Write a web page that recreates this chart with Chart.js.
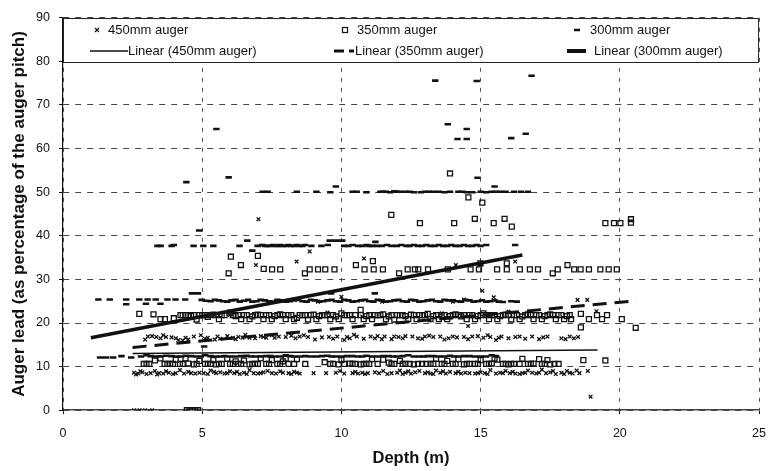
<!DOCTYPE html>
<html>
<head>
<meta charset="utf-8">
<title>Auger lead vs depth</title>
<script src="https://cdn.jsdelivr.net/npm/chart.js@4.4.1/dist/chart.umd.min.js"></script>
<style>
  html, body { margin: 0; padding: 0; background: #fff; }
  #wrap { width: 778px; height: 471px; }
</style>
</head>
<body>
<div id="wrap"><canvas id="augerChart" width="778" height="471"></canvas></div>
<script>
// Data: [depth (m), auger lead (%)]
const auger450 = [
  [2.55,0],[2.75,0],[2.95,0],[3.2,0],[18.95,3.1],
  [2.55,8.6],[2.7,8.4],[2.85,8.7],[3.0,8.3],[3.3,9.0],[3.45,8.5],[3.6,8.4],[3.8,8.6],[4.05,8.5],[4.2,9.2],
  [4.35,8.4],[4.5,8.8],[4.75,8.4],[4.9,8.6],[5.05,8.5],[5.3,9.1],[5.5,8.5],[5.65,8.7],[5.8,8.4],[6.0,8.9],
  [6.15,8.5],[6.35,8.3],[6.5,8.6],[6.7,9.2],[6.85,8.5],[7.0,8.4],[7.2,8.7],[7.35,9.0],[7.5,8.5],[7.65,8.4],
  [7.9,8.6],[8.1,8.5],[8.3,8.8],[8.5,8.4],[9.0,8.5],[9.45,8.5],[9.8,8.6],[9.95,9.0],[10.1,8.4],[10.4,8.5],
  [10.6,8.4],[10.75,8.6],[10.95,8.5],[11.2,8.7],[11.5,9.0],[11.8,8.5],[12.1,9.1],[12.3,8.6],[12.5,8.4],
  [12.65,8.7],[12.8,9.0],[13.0,8.5],[13.2,8.4],[13.4,9.1],[13.55,8.6],[13.75,8.4],[13.9,8.8],[14.1,8.5],
  [14.3,8.4],[14.45,8.6],[14.6,8.5],[14.8,8.4],[15.0,8.7],[15.15,8.5],[15.35,9.2],[15.55,8.4],[15.7,8.6],
  [15.9,9.0],[16.05,8.5],[16.25,8.4],[16.5,8.5],[16.7,9.1],[16.85,8.6],[17.0,8.4],[17.2,9.3],[17.35,8.5],
  [17.5,8.7],[17.7,8.3],[17.9,8.6],[18.1,9.0],[18.3,8.4],[18.55,8.5],[18.85,9.0],
  [2.62,8.2],[2.78,8.9],[3.15,8.5],[3.38,8.2],[3.7,8.9],[3.95,8.3],[4.6,8.5],[5.2,8.3],[5.42,8.8],[5.9,8.5],
  [6.25,8.8],[6.6,8.3],[7.1,8.5],[7.8,8.9],[8.2,8.3],[8.4,8.6],[10.5,8.8],[10.85,8.3],[11.35,8.5],[11.65,8.3],
  [12.0,8.6],[12.2,8.3],[12.4,8.9],[13.1,8.7],[13.3,8.3],[13.65,8.9],[14.2,8.8],[14.9,8.5],[15.25,8.3],
  [15.8,8.5],[16.15,8.8],[16.4,8.3],[16.6,8.6],[17.1,8.6],[17.6,9.0],[18.0,8.3],[18.2,8.6],[18.45,9.1],
  [2.95,16.2],[3.2,17.0],[3.35,16.8],[3.5,16.5],[3.7,16.8],[3.9,16.7],[4.15,16.1],[4.3,16.0],[4.5,16.2],
  [4.7,16.9],[4.95,17.2],[5.2,16.6],[5.45,16.2],[5.65,16.4],[5.9,17.0],[6.1,16.6],[6.3,16.8],[6.55,17.3],
  [6.7,16.6],[6.9,16.5],[7.1,17.0],[7.3,16.6],[7.5,17.2],[7.75,16.9],[8.0,16.8],[8.2,17.1],[8.5,16.9],
  [8.8,16.8],[9.05,16.2],[9.3,16.7],[9.55,16.8],[9.85,16.9],[10.1,16.1],[10.3,16.5],[10.55,16.9],[10.8,16.4],
  [11.05,16.9],[11.3,17.0],[11.55,16.9],[11.8,16.3],[12.05,16.8],[12.3,17.0],[12.55,16.9],[12.75,16.5],
  [13.0,16.9],[13.3,16.8],[13.55,16.9],[13.7,16.2],[14.0,16.9],[14.4,16.8],[14.7,16.9],[14.9,17.0],
  [15.1,16.6],[15.35,16.8],[15.55,16.1],[15.75,16.9],[16.0,16.5],[16.25,16.8],[16.6,16.4],[16.85,16.9],
  [17.1,16.3],[17.4,16.9],[17.9,16.5],[18.2,16.9],[18.5,16.8],
  [3.05,16.9],[3.6,17.2],[4.05,16.5],[4.4,16.6],[5.1,16.4],[5.55,16.9],[6.2,16.3],[6.45,16.6],[7.2,16.8],
  [7.6,16.6],[8.35,16.5],[8.65,17.2],[9.7,16.4],[10.2,16.8],[10.45,17.3],[11.2,16.5],[11.45,16.3],[11.9,16.9],
  [12.2,16.5],[12.9,16.4],[13.15,17.1],[13.85,16.5],[14.15,16.7],[14.55,16.3],[15.25,17.2],[15.65,16.6],
  [16.4,16.9],[17.25,16.7],[18.05,16.3],[18.35,16.5],
  [6.0,21.9],[9.5,22.4],[10.75,21.5],[13.6,22.2],[14.55,19.3],[16.0,22.6],[19.16,22.7],
  [9.16,24.9],[10.0,26.0],[11.46,24.9],[14.0,24.9],[14.4,25.4],[15.47,25.9],[18.48,25.3],[18.83,25.3],
  [15.06,27.4],[6.93,33.3],[8.39,34.1],[8.86,36.4],[10.81,34.8],[14.11,33.3],[15.03,33.5],[16.24,34.1],
  [7.02,43.8]
];

const auger350 = [
  [4.45,0],[4.55,0],[4.65,0],[4.75,0],[4.85,0],
  [2.9,10.6],[3.1,10.6],[3.3,11.4],[3.5,11.9],[3.65,10.6],[3.85,10.6],[4.05,11.6],[4.3,10.6],[4.5,10.7],
  [4.7,10.5],[4.9,11.3],[5.1,10.6],[5.3,10.6],[5.5,10.5],[5.7,10.6],[5.9,11.8],[6.1,10.6],[6.3,10.6],
  [6.5,11.4],[6.7,10.5],[6.9,10.6],[7.1,11.9],[7.3,10.6],[7.5,11.5],[7.7,10.6],[7.9,11.2],[8.1,10.6],
  [8.4,11.7],[8.7,10.6],[9.4,11.0],[9.7,10.6],[9.9,10.5],[10.1,10.6],[10.3,10.7],[10.5,10.6],[10.7,10.5],
  [10.9,10.6],[11.1,11.7],[11.3,10.6],[11.5,11.6],[11.7,10.9],[11.9,10.6],[12.1,11.3],[12.3,10.6],
  [12.6,10.5],[12.9,10.6],[13.2,10.6],[13.4,11.8],[13.6,10.6],[13.8,11.3],[14.0,10.6],[14.2,11.7],
  [14.4,10.5],[14.6,10.6],[14.8,10.6],[15.0,11.5],[15.2,10.6],[15.4,10.7],[15.6,11.6],[15.8,10.6],
  [16.0,10.5],[16.2,10.6],[16.5,11.8],[16.7,10.6],[16.9,10.7],[17.1,11.7],[17.3,10.6],[17.5,10.5],
  [17.8,10.6],[18.69,11.5],[19.48,11.4],
  [3.0,10.6],[3.75,10.6],[3.95,10.6],[4.2,10.6],[4.4,11.9],[4.8,10.6],[5.2,10.6],[5.4,11.5],[5.6,10.6],
  [6.0,10.6],[6.2,11.2],[6.4,10.6],[6.8,10.6],[7.0,10.6],[7.4,10.6],[7.8,10.6],[8.0,11.8],[8.3,10.6],
  [9.6,10.6],[10.0,11.5],[10.4,10.6],[10.8,10.6],[11.0,10.6],[11.8,10.6],[12.2,10.6],[12.45,10.6],
  [12.75,10.6],[13.05,10.6],[13.3,10.6],[13.7,10.6],[14.1,10.6],[14.5,10.6],[14.9,10.6],[15.3,10.6],
  [15.5,11.8],[15.9,10.6],[16.1,10.6],[16.4,10.6],[16.8,10.6],[17.2,10.6],[17.4,11.5],[17.65,10.6],
  [2.74,22.1],[3.25,22.0],[3.5,20.9],[3.66,20.9],[3.98,21.1],[4.22,21.8],[4.4,21.8],[4.6,21.6],[4.8,20.8],
  [5.0,21.8],[5.2,21.4],[5.4,21.9],[5.6,20.9],[5.8,21.8],[6.0,22.4],[6.2,21.6],[6.4,20.9],[6.6,21.8],
  [6.8,21.5],[7.0,21.9],[7.2,20.9],[7.4,21.8],[7.6,21.6],[7.8,22.0],[8.0,20.9],[8.2,21.8],[8.4,21.2],
  [8.6,21.8],[8.8,20.8],[9.0,21.9],[9.2,21.6],[9.4,21.8],[9.6,20.9],[9.8,21.5],[10.0,22.2],[10.2,21.8],
  [10.4,20.9],[10.69,23.0],[10.7,21.8],[10.9,21.6],[11.1,20.9],[11.3,21.8],[11.5,22.0],[11.7,21.5],
  [11.9,20.8],[12.1,21.8],[12.3,21.6],[12.5,21.9],[12.7,20.9],[12.9,21.8],[13.1,22.1],[13.3,21.6],
  [13.5,20.9],[13.7,21.8],[13.9,21.6],[14.1,22.0],[14.3,21.5],[14.5,20.9],[14.7,21.8],[14.9,21.6],
  [15.1,22.2],[15.3,20.9],[15.5,21.8],[15.7,21.6],[15.9,21.9],[16.1,20.8],[16.3,21.8],[16.5,21.5],
  [16.7,22.0],[16.9,20.9],[17.1,21.8],[17.3,21.6],[17.5,22.0],[17.7,20.9],[17.9,21.8],[18.1,21.6],
  [18.25,20.9],[18.6,22.1],[18.89,20.9],[19.18,21.8],[19.36,20.9],[19.54,21.8],[20.07,20.9],
  [18.6,19.0],[20.57,18.9],
  [4.3,21.8],[4.5,21.8],[4.7,21.8],[4.9,21.8],[5.1,21.8],[5.3,21.8],[5.5,21.8],[5.7,21.8],[6.1,21.8],
  [6.3,21.8],[6.5,21.8],[6.7,20.9],[6.9,21.8],[7.1,21.8],[7.3,21.8],[7.5,20.9],[7.7,21.8],[7.9,21.8],
  [8.1,21.8],[8.3,20.9],[8.5,21.8],[8.7,21.8],[8.9,21.8],[9.1,20.9],[9.3,21.8],[9.5,21.8],[9.7,21.8],
  [9.9,20.9],[10.1,21.8],[10.3,21.8],[10.5,21.8],[10.8,20.9],[11.0,21.8],[11.2,21.8],[11.4,21.8],
  [11.6,20.9],[11.8,21.8],[12.0,21.8],[12.2,21.8],[12.4,20.9],[12.6,21.8],[12.8,21.8],[13.0,21.8],
  [13.2,20.9],[13.4,21.8],[13.6,21.8],[13.8,20.9],[14.0,21.8],[14.2,21.8],[14.4,21.8],[14.6,21.8],
  [14.8,20.9],[15.0,21.8],[15.2,21.8],[15.4,21.8],[15.6,20.9],[15.8,21.8],[16.0,21.8],[16.2,21.8],
  [16.4,20.9],[16.6,21.8],[16.8,21.8],[17.0,21.8],[17.2,20.9],[17.4,21.8],[17.6,21.8],[17.8,21.8],
  [18.0,20.9],[18.2,21.8],
  [5.95,31.4],[6.03,35.2],[6.39,33.3],[7.0,35.4],[7.21,32.4],[7.51,32.3],[7.8,32.3],[8.69,31.4],
  [8.86,32.3],[9.16,32.3],[9.42,32.3],[9.75,32.3],[10.52,33.3],[10.83,32.3],[11.13,34.2],[11.16,32.3],
  [11.49,32.3],[12.07,31.4],[12.38,32.3],[12.64,32.3],[12.76,32.3],[13.11,32.3],[13.82,32.3],[14.64,32.3],
  [14.94,32.3],[14.99,33.7],[15.59,32.3],[15.94,32.3],[15.94,33.7],[16.41,32.3],[16.77,32.3],[17.06,32.3],
  [17.59,31.4],[17.77,32.3],[18.12,33.3],[18.36,32.3],[18.59,32.3],[18.89,32.3],[19.3,32.3],[19.6,32.3],
  [19.89,32.3],
  [11.79,44.8],[12.82,42.9],[13.9,54.3],[14.05,42.9],[14.56,48.8],[14.79,43.9],[15.06,47.6],[15.47,42.9],
  [15.86,43.9],[16.12,42.1],[19.48,42.9],[19.79,42.9],[20.02,42.9],[20.4,43.0],[20.4,43.8]
];

const auger300 = [
  [1.33,12.1],[1.8,12.1],[2.1,12.4],[2.45,12.1],[3.0,12.6],[3.3,12.3],[3.7,12.5],[4.1,12.3],[4.4,12.5],
  [4.8,12.3],[5.1,12.6],[5.5,12.3],[5.8,12.4],[6.2,12.3],[6.6,12.5],[6.9,12.3],[7.3,12.4],[7.6,12.3],
  [8.0,12.6],[8.3,12.3],[8.7,12.4],[9.1,12.3],[9.5,12.5],[9.8,12.3],[10.2,12.4],[10.6,12.3],[10.9,12.5],
  [11.3,12.3],[11.7,12.4],[12.0,12.3],[12.4,12.6],[12.8,12.3],[13.1,12.4],[13.5,12.3],[13.9,12.5],
  [14.2,12.3],[14.6,12.4],[15.0,12.3],[15.4,12.6],[5.07,14.6],
  [1.55,12.1],[2.8,12.3],[3.15,12.4],[3.5,12.3],[3.9,12.4],[4.25,12.3],[4.6,12.4],[4.95,12.3],[5.3,12.4],
  [5.65,12.3],[6.0,12.3],[6.4,12.4],[6.75,12.3],[7.1,12.3],[7.45,12.4],[7.8,12.3],[8.15,12.4],[8.5,12.3],
  [8.9,12.3],[9.3,12.4],[9.65,12.3],[10.0,12.3],[10.4,12.4],[10.75,12.3],[11.1,12.3],[11.5,12.4],
  [11.85,12.3],[12.2,12.4],[12.6,12.3],[12.95,12.3],[13.3,12.4],[13.7,12.3],[14.05,12.3],[14.4,12.4],
  [14.8,12.3],[15.2,12.3],[15.55,12.4],
  [1.27,25.4],[1.68,25.4],[2.27,25.4],[2.27,24.3],[2.74,25.4],[2.98,24.4],[3.04,25.4],[3.33,25.4],
  [3.5,24.4],[3.75,25.4],[4.04,25.4],[4.39,25.4],[4.63,26.8],[4.85,26.8],[4.98,25.3],[5.3,25.0],[5.6,25.2],
  [5.9,24.9],[6.2,25.3],[6.5,25.1],[6.8,24.9],[7.1,25.3],[7.4,25.0],[7.7,25.3],[8.0,24.9],[8.3,25.2],
  [8.6,25.0],[8.9,25.3],[9.2,24.9],[9.5,25.2],[9.63,26.8],[9.8,25.0],[10.1,25.3],[10.4,24.9],[10.7,25.2],
  [11.0,25.0],[11.2,26.8],[11.3,25.3],[11.6,24.9],[11.9,25.2],[12.2,25.0],[12.5,25.3],[12.8,24.9],
  [13.1,25.2],[13.4,25.0],[13.7,25.3],[14.0,25.2],[14.3,24.9],[14.6,25.2],[14.9,25.0],[15.2,24.9],
  [15.5,25.2],[15.8,24.8],[16.1,25.0],[16.3,24.9],
  [5.15,25.1],[5.45,25.3],[5.75,25.0],[6.05,25.2],[6.35,24.9],[6.65,25.3],[6.95,25.0],[7.25,25.2],
  [7.55,24.9],[7.85,25.2],[8.15,25.0],[8.45,25.3],[8.75,24.9],[9.05,25.2],[9.35,25.0],[9.65,25.3],
  [9.95,24.9],[10.25,25.2],[10.55,25.0],[10.85,25.3],[11.15,24.9],[11.45,25.2],[11.75,25.0],[12.05,25.3],
  [12.35,24.9],[12.65,25.2],[12.95,25.0],[13.25,25.3],[13.55,24.9],[13.85,25.2],[14.15,25.0],[14.45,25.3],
  [14.75,24.9],[15.05,25.2],[15.35,25.0],[15.65,24.9],
  [3.39,37.7],[3.51,37.7],[3.9,37.7],[3.98,37.9],[4.69,37.7],[5.04,37.7],[5.4,37.7],[6.34,37.7],
  [6.62,38.9],[6.8,36.6],[6.99,37.7],[7.15,37.9],[7.34,37.7],[7.55,37.9],[7.73,37.7],[7.9,37.7],
  [8.1,37.9],[8.3,37.7],[8.5,37.7],[8.69,37.9],[8.92,37.7],[9.28,37.7],[9.51,37.9],[9.58,38.9],[9.8,38.9],
  [10.03,38.9],[10.1,37.7],[10.4,37.9],[10.75,37.7],[10.99,37.7],[11.22,38.6],[11.28,37.7],[11.63,37.9],
  [11.99,37.7],[12.34,37.7],[12.6,37.9],[12.9,37.7],[13.2,37.7],[13.5,37.9],[13.8,37.7],[14.1,37.7],
  [14.4,37.9],[14.7,37.7],[15.0,37.7],[15.2,37.9],[16.24,37.9],
  [7.25,37.7],[7.45,37.7],[7.65,37.7],[7.8,37.9],[8.0,37.7],[8.2,37.7],[8.4,37.9],[8.6,37.7],[10.25,37.7],
  [10.6,37.7],[10.9,37.9],[11.1,37.7],[11.45,37.7],[11.8,37.7],[12.15,37.9],[12.45,37.7],[12.75,37.7],
  [13.05,37.9],[13.35,37.7],[13.65,37.7],[13.95,37.9],[14.25,37.7],[14.55,37.7],[14.85,37.9],
  [7.17,50.1],[7.35,50.1],[8.4,50.1],[9.1,50.1],[9.6,50.0],[9.8,51.3],[10.4,50.1],[10.55,50.1],[10.9,50.0],
  [11.4,50.1],[11.6,50.1],[11.9,50.2],[12.1,50.1],[12.3,50.1],[12.6,50.0],[13.0,50.1],[13.3,50.1],
  [13.7,50.0],[14.2,50.1],[14.5,50.0],[15.4,50.1],[15.7,50.1],[16.2,50.1],[16.7,50.1],
  [11.5,50.1],[11.75,50.0],[12.0,50.1],[12.45,50.1],[12.85,50.0],[13.15,50.1],[13.5,50.1],[13.9,50.1],
  [14.35,50.1],[14.7,50.0],[15.0,50.1],[15.2,50.0],[15.55,50.1],[15.9,50.1],[16.45,50.1],
  [4.43,52.3],[4.89,41.2],[5.51,64.5],[5.95,53.4],[13.37,75.6],[14.86,75.5],[16.83,76.7],[13.82,65.6],
  [14.5,64.5],[14.17,62.2],[14.5,62.2],[16.1,62.4],[16.62,63.4],[14.89,53.3],[15.5,51.3]
];

// Excel linear trendlines (end points)
const trendX450 = [2.5, 19.2];
const trendY450 = [13.0, 13.8];
const trendX350 = [2.5, 20.6];
const trendY350 = [14.4, 25.1];
const trendX300 = [1.0, 16.5];
const trendY300 = [16.6, 35.6];

const xTicks = [0, 5, 10, 15, 20, 25];
const yTicks = [0, 10, 20, 30, 40, 50, 60, 70, 80, 90];

const FONT = 'Arial, "Liberation Sans", sans-serif';
const INK = '#111';

const toPoints = arr => arr.map(p => ({ x: p[0], y: p[1] }));
const toLine = (xs, ys) => xs.map((x, i) => ({ x: x, y: ys[i] }));

// Legend sits inside the top of the plot, like the Excel original
const legendBox = {
  id: 'legendBox',
  afterDraw(chart) {
    const c = chart.ctx;
    const a = chart.chartArea;
    const top = 18, bottom = 62;
    c.save();
    c.fillStyle = '#fff';
    c.fillRect(a.left, top, a.right - a.left, bottom - top);
    c.strokeStyle = '#222';
    c.lineWidth = 1;
    c.strokeRect(a.left + 0.5, top + 0.5, a.right - a.left - 1, bottom - top);

    c.fillStyle = INK;
    c.strokeStyle = INK;
    c.font = '13px ' + FONT;
    c.textBaseline = 'middle';
    const r1 = 30, r2 = 51;

    // row 1: markers
    c.lineWidth = 1.2;
    c.beginPath();
    c.moveTo(95, r1 - 2); c.lineTo(99, r1 + 2);
    c.moveTo(99, r1 - 2); c.lineTo(95, r1 + 2);
    c.stroke();
    c.fillText('450mm auger', 108, r1);

    c.strokeRect(342.5, r1 - 2.5, 5, 5);
    c.fillText('350mm auger', 357, r1);

    c.lineWidth = 2.5;
    c.beginPath(); c.moveTo(574, r1); c.lineTo(580, r1); c.stroke();
    c.fillText('300mm auger', 590, r1);

    // row 2: trendlines
    c.lineWidth = 1.5;
    c.beginPath(); c.moveTo(90, r2); c.lineTo(128, r2); c.stroke();
    c.fillText('Linear (450mm auger)', 128, r2);

    c.lineWidth = 3;
    c.setLineDash([10, 5]);
    c.beginPath(); c.moveTo(334, r2); c.lineTo(354, r2); c.stroke();
    c.setLineDash([]);
    c.fillText('Linear (350mm auger)', 355, r2);

    c.lineWidth = 4;
    c.beginPath(); c.moveTo(567, r2); c.lineTo(586, r2); c.stroke();
    c.fillText('Linear (300mm auger)', 594, r2);
    c.restore();
  }
};

const ctx = document.getElementById('augerChart').getContext('2d');
const chart = new Chart(ctx, {
  type: 'scatter',
  data: {
    datasets: [
      {
        label: 'Linear (450mm auger)',
        data: toLine(trendX450, trendY450),
        showLine: true, pointRadius: 0,
        borderColor: INK, borderWidth: 1.6
      },
      {
        label: 'Linear (350mm auger)',
        data: toLine(trendX350, trendY350),
        showLine: true, pointRadius: 0,
        borderColor: INK, borderWidth: 3, borderDash: [14, 8]
      },
      {
        label: 'Linear (300mm auger)',
        data: toLine(trendX300, trendY300),
        showLine: true, pointRadius: 0,
        borderColor: INK, borderWidth: 3.5
      },
      {
        label: '450mm auger',
        data: toPoints(auger450),
        pointStyle: 'crossRot', pointRadius: 2.6, pointBorderWidth: 1.3,
        pointBorderColor: INK, pointBackgroundColor: INK
      },
      {
        label: '350mm auger',
        data: toPoints(auger350),
        pointStyle: 'rect', pointRadius: 3.5, pointBorderWidth: 1.3,
        pointBorderColor: INK, pointBackgroundColor: 'rgba(255,255,255,0)'
      },
      {
        label: '300mm auger',
        data: toPoints(auger300),
        pointStyle: 'line', pointRadius: 3.2, pointBorderWidth: 2.6,
        pointBorderColor: INK, pointBackgroundColor: INK
      }
    ]
  },
  options: {
    responsive: false,
    animation: false,
    events: [],
    layout: { padding: { top: 17.8, right: 7.5, left: 0, bottom: 0 } },
    plugins: {
      legend: { display: false },
      tooltip: { enabled: false }
    },
    scales: {
      x: {
        type: 'linear', min: 0, max: 25,
        afterBuildTicks: s => { s.ticks = xTicks.map(v => ({ value: v })); },
        afterFit: s => { s.height = 60.8; },
        ticks: { color: INK, font: { family: FONT, size: 12.5 }, padding: 12 },
        grid: { color: '#555', lineWidth: 1, tickLength: 4, tickColor: INK },
        border: { color: '#444', width: 1.6, dash: [4, 6] },
        title: {
          display: true, text: 'Depth (m)', color: INK,
          font: { family: FONT, size: 16.5, weight: 'bold' },
          padding: { top: 0, bottom: 3 }
        }
      },
      y: {
        type: 'linear', min: 0, max: 90,
        afterBuildTicks: s => { s.ticks = yTicks.map(v => ({ value: v })); },
        afterFit: s => { s.width = 63; },
        ticks: { color: INK, font: { family: FONT, size: 12.5 }, padding: 9 },
        grid: { color: '#444', lineWidth: 1, tickLength: 4, tickColor: INK },
        border: { color: INK, width: 1.2, dash: [6, 6] },
        title: {
          display: true, text: 'Auger lead (as percentage of the auger pitch)', color: INK,
          font: { family: FONT, size: 17, weight: 'bold' },
          padding: { top: 9, bottom: 0 }
        }
      }
    }
  },
  plugins: [legendBox]
});
</script>
</body>
</html>
